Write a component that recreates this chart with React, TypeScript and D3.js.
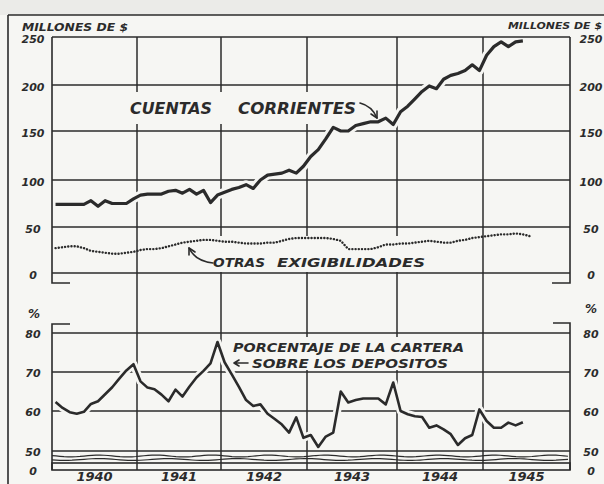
import { useEffect } from "react";
import { scaleLinear, line as d3_line, range } from "d3";

// monthly values, Jan 1940 onwards
const cuentasCorrientes = [
  74, 74, 74, 74, 74, 78, 72, 78, 75, 75, 75, 80,
  84, 85, 85, 85, 88, 89, 86, 90, 85, 89, 76, 84,
  87, 90, 92, 95, 91, 100, 105, 106, 107, 110, 107, 114,
  124, 131, 142, 154, 150, 150, 156, 158, 160, 160, 164, 157,
  171, 177, 185, 193, 199, 196, 206, 210, 212, 215, 221, 215,
  231, 240, 245, 240, 245, 246,
];
const otrasExigibilidades = [
  27, 28, 29, 29, 27, 24, 23, 22, 21, 21, 22, 23,
  25, 26, 26, 27, 29, 31, 33, 34, 35, 36, 36, 35,
  34, 34, 33, 32, 32, 32, 33, 33, 35, 37, 38, 38,
  38, 38, 38, 37, 35, 26, 26, 26, 26, 28, 31, 31,
  32, 32, 33, 34, 35, 34, 33, 33, 35, 36, 38, 39,
  40, 41, 42, 42, 43, 42, 40,
];
const porcentajeCartera = [
  62.3, 60.8, 59.7, 59.3, 59.8, 61.8, 62.5, 64.3, 66.1, 68.3, 70.4, 72.0,
  67.6, 66.0, 65.6, 64.2, 62.5, 65.5, 63.7, 66.3, 68.6, 70.3, 72.2, 77.7,
  72.5, 69.4, 66.2, 62.8, 61.3, 61.7, 59.3, 58.0, 56.6, 54.6, 58.4, 53.3,
  54.0, 51.0, 53.6, 54.6, 65.0, 62.2, 62.8, 63.2, 63.2, 63.2, 61.7, 67.3,
  60.0, 59.2, 58.7, 58.5, 55.8, 56.4, 55.4, 54.2, 51.5, 53.2, 54.0, 60.4,
  57.5, 55.8, 55.8, 57.1, 56.4, 57.2,
];
const years = ["1940", "1941", "1942", "1943", "1944", "1945"];
const millonesTicks = [0, 50, 100, 150, 200, 250];
const pctTicks = [50, 60, 70, 80];

const INK = "#2b2b2b";
const PAPER = "#f6f6f3";
const FONT = "'DejaVu Sans', sans-serif";

export default function App() {
  useEffect(() => {
    document.body.style.margin = "0";
  }, []);

  // hand-ruled year columns are not quite even
  const x = scaleLinear()
    .domain([0, 12, 24, 36, 48, 60, 72])
    .range([52, 137, 221, 307, 397, 483, 570]);
  const yM = scaleLinear()
    .domain([0, 50, 100, 150, 200, 250])
    .range([273, 227, 180, 131, 85, 37]);
  const yP = scaleLinear().domain([50, 60, 70, 80]).range([451, 411, 372, 333]);
  const yPZero = 470;

  const left = x(0);
  const right = x(72);

  const lineM = d3_line<number>()
    .x((_, i) => x(i + 0.5))
    .y((d) => yM(d));
  const lineP = d3_line<number>()
    .x((_, i) => x(i + 0.5))
    .y((d) => yP(d));

  const dCuentas = lineM(cuentasCorrientes) ?? "";
  const dOtras = lineM(otrasExigibilidades) ?? "";
  const dPct = lineP(porcentajeCartera) ?? "";

  // torn-scale marks between 50 and 0
  const wave = (base: number, k: number) =>
    d3_line<number>()
      .x((d) => d)
      .y((d) => base + Math.sin(d / (9 + k) + k) * 0.9)(range(left, right + 1, 4)) ?? "";

  const txt = {
    fontFamily: FONT,
    fontStyle: "italic" as const,
    fontWeight: 700,
    fill: INK,
  };

  return (
    <svg
      width={604}
      height={484}
      style={{ display: "block", background: PAPER }}
    >
      <rect x={0} y={0} width={604} height={15} fill="#ebebe8" />
      {/* outer frame */}
      <line x1={8} x2={604} y1={15} y2={15} stroke={INK} strokeWidth={1.6} />
      <line x1={8} x2={8} y1={15} y2={484} stroke={INK} strokeWidth={1.6} />

      {/* interior grid */}
      <g stroke={INK} strokeWidth={1.5}>
        {millonesTicks.slice(1, -1).map((t) => (
          <line key={t} x1={left} x2={right} y1={yM(t)} y2={yM(t)} />
        ))}
        {[60, 70].map((t) => (
          <line key={t} x1={left} x2={right} y1={yP(t)} y2={yP(t)} />
        ))}
        {range(1, 6).map((i) => (
          <line key={i} x1={x(i * 12)} x2={x(i * 12)} y1={yM(250)} y2={yPZero} />
        ))}
      </g>

      {/* blank boxes behind lettering */}
      <rect x={124} y={92} width={238} height={32} fill={PAPER} />
      <rect x={205} y={236} width={226} height={36} fill={PAPER} />
      <rect x={226} y={337} width={244} height={33} fill={PAPER} />

      {/* gaps in the grid where the curves cross */}
      <path d={dCuentas} fill="none" stroke={PAPER} strokeWidth={9} strokeLinejoin="round" />
      <path d={dPct} fill="none" stroke={PAPER} strokeWidth={8} strokeLinejoin="round" />

      {/* panel borders */}
      <g stroke={INK} strokeWidth={1.6} fill="none">
        <line x1={left} x2={right} y1={yM(250)} y2={yM(250)} />
        <line x1={left} x2={right} y1={yM(0)} y2={yM(0)} />
        <path d={`M${left},${yM(250)}V283H70`} />
        <path d={`M${right},${yM(250)}V283H552`} />
        <line x1={left} x2={right} y1={yP(80)} y2={yP(80)} />
        <line x1={left} x2={right} y1={yP(50)} y2={yP(50)} />
        <path d={`M70,324H${left}V${yPZero}`} />
        <path d={`M553,323H${right}V${yPZero}`} />
        <rect x={left} y={463} width={right - left} height={yPZero - 463} />
        <path d={wave(456, 0)} strokeWidth={1.2} />
        <path d={wave(459.5, 2)} strokeWidth={1.2} />
      </g>

      {/* series */}
      <path d={dCuentas} fill="none" stroke={INK} strokeWidth={3.2} strokeLinejoin="round" />
      <path
        d={dOtras}
        fill="none"
        stroke={INK}
        strokeWidth={2.4}
        strokeLinecap="round"
        strokeDasharray="0.1 3.1"
      />
      <path d={dPct} fill="none" stroke={INK} strokeWidth={2.6} strokeLinejoin="round" />

      {/* arrows */}
      <g stroke={INK} strokeWidth={1.6} fill="none" strokeLinecap="round">
        <path d="M360,103 Q372,106 377,118" />
        <path d="M377,118 L371,114 M377,118 L377,111" />
        <path d="M213,263 Q195,261 189,248" />
        <path d="M189,248 L189,255 M189,248 L195,252" />
        <path d="M248,363 L234,363 M234,363 L239,360 M234,363 L239,366" />
      </g>

      {/* axis lettering */}
      <g {...txt}>
        <text x={22} y={31} fontSize={10} textLength={106} lengthAdjust="spacingAndGlyphs">
          MILLONES DE $
        </text>
        <text x={508} y={29} fontSize={9} textLength={94} lengthAdjust="spacingAndGlyphs">
          MILLONES DE $
        </text>
        {millonesTicks.map((t) => (
          <g key={t} fontSize={11} textAnchor="middle" dominantBaseline="central">
            <text x={33} y={yM(t) + 2}>{t}</text>
            <text x={591} y={yM(t) + 2}>{t}</text>
          </g>
        ))}
        <text x={34} y={314} fontSize={12} textAnchor="middle" dominantBaseline="central">%</text>
        <text x={591} y={309} fontSize={12} textAnchor="middle" dominantBaseline="central">%</text>
        {pctTicks.map((t) => (
          <g key={t} fontSize={11} textAnchor="middle" dominantBaseline="central">
            <text x={33} y={yP(t) + 1}>{t}</text>
            <text x={591} y={yP(t) + 1}>{t}</text>
          </g>
        ))}
        <g fontSize={11} textAnchor="middle" dominantBaseline="central">
          <text x={33} y={yPZero + 1}>0</text>
          <text x={591} y={yPZero + 1}>0</text>
        </g>
        {years.map((yr, i) => (
          <text key={yr} x={x(i * 12 + 6)} y={480.5} fontSize={13} textAnchor="middle">
            {yr}
          </text>
        ))}
      </g>

      {/* series lettering */}
      <g {...txt}>
        <text x={130} y={114} fontSize={15} textLength={82} lengthAdjust="spacingAndGlyphs">
          CUENTAS
        </text>
        <text x={238} y={114} fontSize={15} textLength={118} lengthAdjust="spacingAndGlyphs">
          CORRIENTES
        </text>
        <text x={213} y={267} fontSize={12} textLength={52} lengthAdjust="spacingAndGlyphs">
          OTRAS
        </text>
        <text x={277} y={267} fontSize={12} textLength={148} lengthAdjust="spacingAndGlyphs">
          EXIGIBILIDADES
        </text>
        <text x={233} y={352} fontSize={12.5} textLength={231} lengthAdjust="spacingAndGlyphs">
          PORCENTAJE DE LA CARTERA
        </text>
        <text x={252} y={368} fontSize={12.5} textLength={196} lengthAdjust="spacingAndGlyphs">
          SOBRE LOS DEPOSITOS
        </text>
      </g>
    </svg>
  );
}
